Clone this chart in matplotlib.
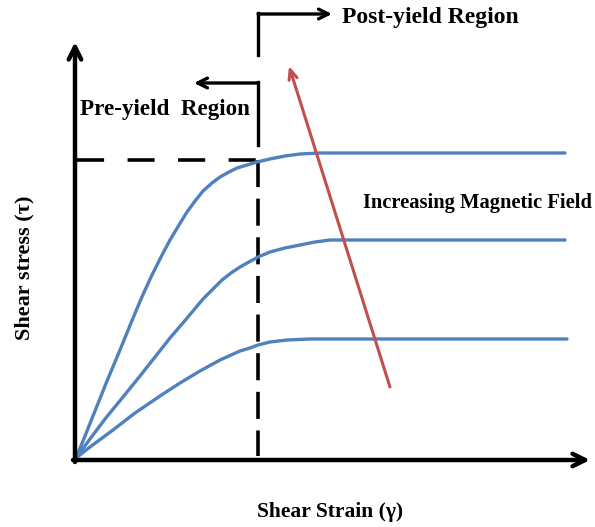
import numpy as np
import matplotlib
matplotlib.use("Agg")
import matplotlib.pyplot as plt

# Esquema: tensao de cisalhamento x deformacao (fluido MR)
# coordenadas em unidades do desenho (0..595 x 0..527, y para baixo)

ORIGIN = (75, 460)
YIELD_X = 258
YIELD_Y = 160

# curvas (strain, stress)
strain_high = [76, 85, 95, 107, 120, 131, 141, 151, 161, 170, 179, 187, 195, 203, 212,
               220, 229, 237, 247, 257, 270, 285, 300, 320, 340, 565]
stress_high = [458, 436, 411, 381, 350, 323, 299, 277, 257, 240, 225, 212, 201, 191, 183,
               177, 172, 168, 165, 162, 159, 156, 154, 153, 153, 153]

strain_mid = [76, 90, 105, 123, 140, 155, 170, 182, 193, 203, 213, 222, 231, 240, 249,
              258, 270, 285, 300, 315, 330, 345, 565]
stress_mid = [458, 439, 419, 397, 376, 357, 338, 324, 311, 299, 289, 280, 273, 267, 262,
              257, 252, 248, 245, 242, 240, 240, 240]

strain_low = [76, 90, 113, 135, 160, 180, 200, 220, 240, 250, 258, 270, 287, 310, 340, 567]
stress_low = [458, 447, 430, 413, 396, 383, 371, 360, 351, 348, 345, 342, 340, 339, 339, 339]

curves = [(strain_high, stress_high), (strain_mid, stress_mid), (strain_low, stress_low)]

BLUE = "#4f81bd"
RED = "#c0504d"
SERIF = ["Liberation Serif", "DejaVu Serif"]

fig = plt.figure(figsize=(5.95, 5.27), dpi=100)
ax = fig.add_axes([0, 0, 1, 1])
ax.set_xlim(0, 595)
ax.set_ylim(527, 0)
ax.axis("off")

# eixos com setas
ax.annotate("", xy=(75, 42), xytext=(75, 462),
            arrowprops=dict(arrowstyle="->,head_length=0.9,head_width=0.45", lw=3.2,
                            color="black", shrinkA=0, shrinkB=0))
ax.annotate("", xy=(590, 460), xytext=(73, 460),
            arrowprops=dict(arrowstyle="->,head_length=0.9,head_width=0.45", lw=3.2,
                            color="black", shrinkA=0, shrinkB=0))

# linhas tracejadas do ponto de escoamento
ax.plot([77, YIELD_X], [YIELD_Y, YIELD_Y], color="black", lw=2.6, ls=(0, (7.5, 6.5)))
ax.plot([YIELD_X, YIELD_X], [YIELD_Y, 456], color="black", lw=2.6, ls=(0, (7.5, 3.2)))

# curvas
for sx, sy in curves:
    ax.plot(sx, sy, color=BLUE, lw=2.4, solid_capstyle="round", solid_joinstyle="round")

# colchetes pre/pos escoamento
ax.annotate("", xy=(194, 83), xytext=(YIELD_X, 83),
            arrowprops=dict(arrowstyle="->,head_length=0.7,head_width=0.35", lw=2.4,
                            color="black", shrinkA=0, shrinkB=0))
ax.plot([YIELD_X, YIELD_X], [82, 145], color="black", lw=2.4)
ax.annotate("", xy=(332, 14), xytext=(YIELD_X, 14),
            arrowprops=dict(arrowstyle="->,head_length=0.7,head_width=0.35", lw=2.4,
                            color="black", shrinkA=0, shrinkB=0))
ax.plot([YIELD_X, YIELD_X], [13, 55], color="black", lw=2.4)

# seta vermelha
ax.annotate("", xy=(289, 66), xytext=(390, 387),
            arrowprops=dict(arrowstyle="->,head_length=0.7,head_width=0.3", lw=2.2,
                            color=RED, shrinkA=0, shrinkB=0))

# textos
ax.text(342, 17, "Post-yield Region", fontsize=17, fontweight="bold", family=SERIF,
        ha="left", va="center")
ax.text(80, 110, "Pre-yield  Region", fontsize=16.6, fontweight="bold", family=SERIF,
        ha="left", va="center")
ax.text(363, 203, "Increasing Magnetic Field", fontsize=14.8, fontweight="bold", family=SERIF,
        ha="left", va="center")
ax.text(330, 512, "Shear Strain (γ)", fontsize=15.5, fontweight="bold", family=SERIF,
        ha="center", va="center")
ax.text(24, 268, "Shear stress (τ)", fontsize=16, fontweight="bold", family=SERIF,
        ha="center", va="center", rotation=90)

fig.savefig("out.png", dpi=100)
